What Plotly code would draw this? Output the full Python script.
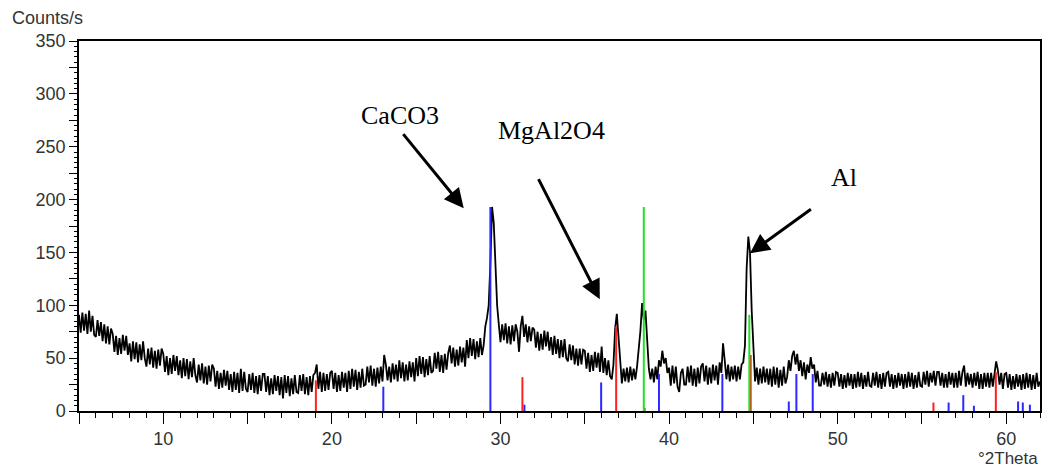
import plotly.graph_objects as go

# ---------------- data ----------------
TWO_THETA_START = 5.0
TWO_THETA_STEP = 0.1

# measured counts/s, one row per degree (x.0 ... x.9)
counts = [
    91, 74, 93, 76, 92, 73, 95, 75, 90, 72,   # 5
    70, 86, 71, 84, 66, 82, 64, 80, 63, 78,   # 6
    73, 56, 71, 53, 69, 54, 72, 57, 71, 53,   # 7
    64, 47, 66, 49, 65, 46, 63, 48, 66, 50,   # 8
    42, 59, 44, 60, 41, 57, 40, 58, 43, 59,   # 9
    54, 37, 52, 34, 50, 35, 53, 38, 52, 34,   # 10
    48, 31, 50, 33, 49, 30, 47, 32, 50, 34,   # 11
    27, 44, 29, 45, 26, 42, 25, 43, 28, 44,   # 12
    40, 23, 38, 21, 36, 22, 39, 24, 38, 20,   # 13
    35, 18, 37, 20, 36, 17, 40, 19, 37, 21,   # 14
    18, 35, 20, 36, 17, 33, 16, 34, 19, 35,   # 15
    35, 18, 33, 15, 31, 16, 34, 19, 33, 15,   # 16
    32, 12, 34, 17, 33, 14, 31, 16, 34, 18,   # 17
    17, 34, 19, 35, 16, 32, 15, 33, 18, 34,   # 18
    36, 44, 21, 37, 18, 36, 19, 35, 20, 36,   # 19
    38, 21, 36, 18, 34, 19, 37, 22, 36, 18,   # 20
    38, 21, 40, 23, 39, 20, 37, 22, 40, 24,   # 21
    25, 42, 27, 43, 24, 40, 23, 41, 26, 42,   # 22
    28, 53, 44, 29, 42, 27, 45, 30, 44, 28,   # 23
    48, 31, 46, 28, 44, 29, 47, 32, 46, 28,   # 24
    50, 33, 52, 35, 51, 32, 49, 34, 52, 36,   # 25
    38, 55, 40, 56, 37, 53, 36, 54, 39, 55,   # 26
    62, 45, 60, 42, 58, 43, 61, 46, 60, 42,   # 27
    67, 50, 69, 52, 68, 49, 66, 51, 69, 53,   # 28
    62, 80, 88, 100, 140, 193, 178, 130, 100, 82,  # 29
    65, 82, 67, 83, 64, 80, 63, 81, 66, 82,   # 30
    75, 56, 80, 90, 70, 82, 65, 80, 66, 79,   # 31
    77, 60, 75, 57, 73, 58, 76, 61, 75, 57,   # 32
    70, 53, 71, 54, 68, 50, 67, 51, 68, 50,   # 33
    47, 63, 48, 62, 44, 59, 43, 59, 44, 58,   # 34
    57, 40, 55, 37, 53, 38, 56, 41, 55, 37,   # 35
    61, 36, 50, 34, 48, 33, 30, 44, 78, 92,   # 36
    70, 40, 26, 40, 28, 41, 27, 42, 29, 40,   # 37
    30, 42, 56, 76, 102, 86, 95, 60, 40, 30,  # 38
    40, 27, 42, 30, 48, 42, 57, 45, 50, 36,   # 39
    41, 24, 43, 26, 42, 23, 18, 36, 40, 25,   # 40
    25, 42, 27, 43, 24, 40, 23, 41, 26, 42,   # 41
    45, 28, 43, 25, 41, 26, 44, 29, 43, 25,   # 42
    46, 36, 64, 48, 30, 44, 28, 42, 30, 43,   # 43
    28, 42, 30, 44, 46, 62, 135, 165, 150, 95,  # 44
    52, 28, 41, 25, 40, 26, 42, 27, 40, 25,   # 45
    40, 23, 42, 25, 41, 22, 39, 24, 42, 26,   # 46
    32, 48, 38, 52, 57, 44, 54, 38, 48, 33,   # 47
    46, 30, 44, 36, 51, 40, 44, 27, 38, 24,   # 48
    24, 36, 25, 37, 23, 35, 22, 36, 24, 37,   # 49
    36, 23, 35, 21, 34, 22, 36, 24, 35, 21,   # 50
    35, 22, 37, 23, 36, 21, 34, 23, 37, 24,   # 51
    23, 36, 24, 37, 22, 35, 21, 36, 23, 36,   # 52
    37, 23, 35, 21, 34, 22, 36, 24, 35, 21,   # 53
    35, 22, 37, 23, 36, 21, 34, 22, 37, 24,   # 54
    23, 37, 25, 38, 23, 36, 27, 38, 24, 37,   # 55
    37, 24, 36, 22, 35, 22, 37, 25, 36, 22,   # 56
    36, 22, 38, 24, 37, 43, 23, 36, 25, 35,   # 57
    22, 36, 24, 37, 21, 35, 21, 36, 23, 36,   # 58
    22, 36, 23, 35, 47, 39, 25, 36, 21, 35,   # 59
    36, 22, 35, 20, 33, 21, 35, 23, 34, 20,   # 60
    35, 21, 36, 22, 35, 20, 34, 21, 36, 23,   # 61
    28,                                        # 62
]
two_theta = [round(TWO_THETA_START + TWO_THETA_STEP * i, 2) for i in range(len(counts))]

# reference patterns (position in deg 2Theta, stick height in counts/s)
calcite_pos = [23.05, 29.40, 31.42, 35.97, 39.40, 43.16, 47.10, 47.55, 48.52,
               56.58, 57.45, 58.08, 60.70, 60.98, 61.40]
calcite_h = [23, 193, 6, 27, 35, 35, 9, 35, 35, 8, 15, 5, 9, 8, 6]

spinel_pos = [19.05, 31.30, 36.86, 38.55, 44.84, 55.68, 59.38]
spinel_h = [29, 32, 80, 3, 53, 8, 37]

al_pos = [38.50, 44.76]
al_h = [193, 91]

x_ticks = [5, 10, 15, 20, 25, 30, 35, 40, 45, 50, 55, 60]
x_tick_labels = ["", "10", "", "20", "", "30", "", "40", "", "50", "", "60"]
y_ticks = [0, 25, 50, 75, 100, 125, 150, 175, 200, 225, 250, 275, 300, 325, 350]
y_tick_labels = ["0", "", "50", "", "100", "", "150", "", "200", "", "250", "", "300", "", "350"]


def sticks(pos, h):
    xs, ys = [], []
    for p, v in zip(pos, h):
        xs += [p, p, None]
        ys += [0, v, None]
    return xs, ys


fig = go.Figure()
fig.add_trace(go.Scatter(x=two_theta, y=counts, mode="lines",
                         line=dict(color="black", width=1.8), showlegend=False))

for pos, h, col in [(calcite_pos, calcite_h, "#2a2aff"),
                    (spinel_pos, spinel_h, "#ff2020"),
                    (al_pos, al_h, "#22e022")]:
    xs, ys = sticks(pos, h)
    fig.add_trace(go.Scatter(x=xs, y=ys, mode="lines",
                             line=dict(color=col, width=2), showlegend=False))

tick_font = dict(family="Liberation Sans", size=18, color="#333333")
unit_font = dict(family="Liberation Sans", size=17, color="#333333")
label_font = dict(family="Liberation Serif", size=26, color="black")

fig.update_xaxes(range=[5, 62], tickmode="array", tickvals=x_ticks, ticktext=x_tick_labels,
                 ticks="outside", ticklen=11, tickwidth=1.2, tickcolor="black",
                 showline=True, linecolor="black", linewidth=1.5, mirror=True,
                 showgrid=False, zeroline=False, tickfont=tick_font, automargin=False,
                 minor=dict(tick0=0, dtick=1, ticks="outside", ticklen=5,
                            tickcolor="black", tickwidth=1.2, showgrid=False))
fig.update_yaxes(range=[0, 350], tickmode="array", tickvals=y_ticks, ticktext=y_tick_labels,
                 ticks="outside", ticklen=8, tickwidth=1.2, tickcolor="black",
                 showline=True, linecolor="black", linewidth=1.5, mirror=True,
                 showgrid=False, zeroline=False, tickfont=tick_font, automargin=False,
                 minor=dict(tick0=0, dtick=5, ticks="outside", ticklen=3,
                            tickcolor="black", tickwidth=1, showgrid=False))

annotations = [
    dict(text="CaCO3", x=24.06, y=280, xref="x", yref="y", showarrow=False, font=label_font),
    dict(text="MgAl2O4", x=33.02, y=265, xref="x", yref="y", showarrow=False, font=label_font),
    dict(text="Al", x=50.36, y=221, xref="x", yref="y", showarrow=False, font=label_font),
    dict(text="", x=27.82, y=191.8, ax=24.16, ay=263.3, xref="x", yref="y",
         axref="x", ayref="y", showarrow=True, arrowhead=2, arrowsize=1.3,
         arrowwidth=3, arrowcolor="black"),
    dict(text="", x=35.89, y=105.7, ax=32.21, ay=220.7, xref="x", yref="y",
         axref="x", ayref="y", showarrow=True, arrowhead=2, arrowsize=1.3,
         arrowwidth=3, arrowcolor="black"),
    dict(text="", x=44.80, y=149.2, ax=48.50, ay=191.8, xref="x", yref="y",
         axref="x", ayref="y", showarrow=True, arrowhead=2, arrowsize=1.3,
         arrowwidth=3, arrowcolor="black"),
    dict(text="Counts/s", x=-0.072, y=1.062, xref="paper", yref="paper",
         xanchor="left", yanchor="middle", showarrow=False, font=tick_font),
    dict(text="°2Theta", x=1.0, y=-0.128, xref="paper", yref="paper",
         xanchor="right", yanchor="middle", showarrow=False, font=unit_font),
]

# the page places the figure 8 px from the top-left corner of the window
fig.update_layout(width=1042, height=460,
                  margin=dict(l=71, r=10, t=33, b=57, autoexpand=False),
                  paper_bgcolor="white", plot_bgcolor="white",
                  annotations=annotations, showlegend=False)

fig.write_html("out.html")
